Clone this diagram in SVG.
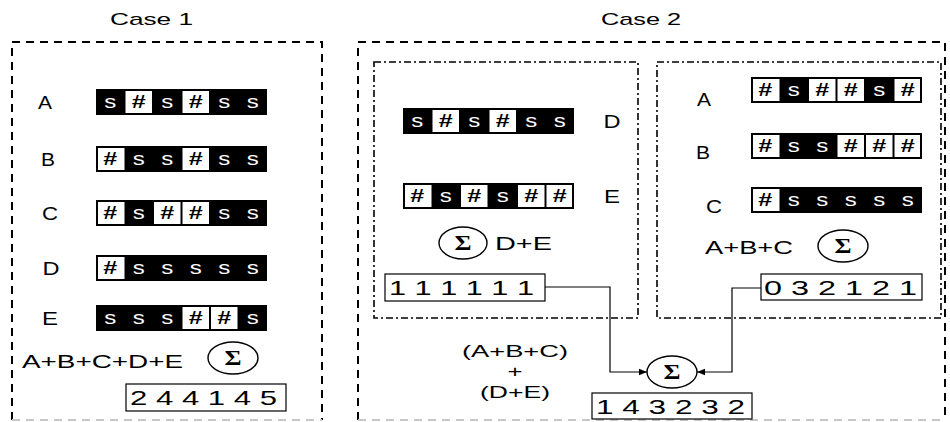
<svg xmlns="http://www.w3.org/2000/svg" width="950" height="422" viewBox="0 0 950 422">
<style>
text{font-family:"Liberation Sans",Arial,sans-serif;fill:#000}
.title{font-size:17px}
.lbl{font-size:18px;text-anchor:middle}
.bar{fill:#000}
.wc{fill:#fff}
.s{font-size:18px;fill:#fff;text-anchor:middle}
.h{font-size:18px;font-weight:bold;text-anchor:middle}
.outer{fill:none;stroke:#000;stroke-width:2;stroke-dasharray:8 6}
.outerb{fill:none;stroke:#c8c8c8;stroke-width:2;stroke-dasharray:8 6}
.inner{fill:none;stroke:#000;stroke-width:1.6;stroke-dasharray:7 3 2 3}
.sum{fill:#fff;stroke:#000;stroke-width:1.2}
.dig{font-size:21px}
.ex{font-size:18px}
.ex2{font-size:17px;text-anchor:middle}
.sig{fill:#fff;stroke:#000;stroke-width:1.4}
.sigt{font-family:"Liberation Serif","Times New Roman",serif;font-size:20px;font-weight:bold;text-anchor:middle}
.conn{fill:none;stroke:#000;stroke-width:1.2}
</style>
<defs>
<marker id="arr" viewBox="0 0 10 10" refX="10" refY="5" markerWidth="8" markerHeight="8" orient="auto" markerUnits="userSpaceOnUse">
<path d="M0,1 L10,5 L0,9 z" fill="#000"/>
</marker>
</defs>

<text class="title" x="110" y="25" textLength="83" lengthAdjust="spacingAndGlyphs">Case 1</text>
<text class="title" x="601" y="25" textLength="80" lengthAdjust="spacingAndGlyphs">Case 2</text>

<!-- frames -->
<g id="case1-frame">
<path class="outer" d="M12,420 V42 H322 V420"/>
<path class="outerb" d="M12,420 H322"/>
</g>
<g id="case2-frame">
<path class="outer" d="M358,420 V42 H945 V420"/>
<path class="outerb" d="M358,420 H945"/>
</g>
<g id="de-frame"><rect class="inner" x="374" y="62" width="264" height="256"/></g>
<g id="abc-frame"><rect class="inner" x="657" y="62" width="284" height="256"/></g>

<!-- Case 1 rows -->
<g id="c1-A">
<text class="lbl" x="45" y="109" textLength="14" lengthAdjust="spacingAndGlyphs">A</text>
<rect class="bar" x="96" y="89" width="171" height="26"/>
<rect class="wc" x="125.5" y="91" width="26.5" height="22"/><rect class="wc" x="182.5" y="91" width="26.5" height="22"/>
<text class="s" x="110.25" y="108" textLength="12" lengthAdjust="spacingAndGlyphs">s</text><text class="h" x="138.75" y="108" textLength="14" lengthAdjust="spacingAndGlyphs">#</text><text class="s" x="167.25" y="108" textLength="12" lengthAdjust="spacingAndGlyphs">s</text><text class="h" x="195.75" y="108" textLength="14" lengthAdjust="spacingAndGlyphs">#</text><text class="s" x="224.25" y="108" textLength="12" lengthAdjust="spacingAndGlyphs">s</text><text class="s" x="252.75" y="108" textLength="12" lengthAdjust="spacingAndGlyphs">s</text>
</g>
<g id="c1-B">
<text class="lbl" x="48" y="166" textLength="14" lengthAdjust="spacingAndGlyphs">B</text>
<rect class="bar" x="96" y="146" width="171" height="26"/>
<rect class="wc" x="98" y="148" width="26.5" height="22"/><rect class="wc" x="182.5" y="148" width="26.5" height="22"/>
<text class="h" x="110.25" y="165" textLength="14" lengthAdjust="spacingAndGlyphs">#</text><text class="s" x="138.75" y="165" textLength="12" lengthAdjust="spacingAndGlyphs">s</text><text class="s" x="167.25" y="165" textLength="12" lengthAdjust="spacingAndGlyphs">s</text><text class="h" x="195.75" y="165" textLength="14" lengthAdjust="spacingAndGlyphs">#</text><text class="s" x="224.25" y="165" textLength="12" lengthAdjust="spacingAndGlyphs">s</text><text class="s" x="252.75" y="165" textLength="12" lengthAdjust="spacingAndGlyphs">s</text>
</g>
<g id="c1-C">
<text class="lbl" x="50" y="220" textLength="16" lengthAdjust="spacingAndGlyphs">C</text>
<rect class="bar" x="96" y="200" width="171" height="26"/>
<rect class="wc" x="98" y="202" width="26.5" height="22"/><rect class="wc" x="154" y="202" width="26.5" height="22"/><rect class="wc" x="182.5" y="202" width="26.5" height="22"/>
<text class="h" x="110.25" y="219" textLength="14" lengthAdjust="spacingAndGlyphs">#</text><text class="s" x="138.75" y="219" textLength="12" lengthAdjust="spacingAndGlyphs">s</text><text class="h" x="167.25" y="219" textLength="14" lengthAdjust="spacingAndGlyphs">#</text><text class="h" x="195.75" y="219" textLength="14" lengthAdjust="spacingAndGlyphs">#</text><text class="s" x="224.25" y="219" textLength="12" lengthAdjust="spacingAndGlyphs">s</text><text class="s" x="252.75" y="219" textLength="12" lengthAdjust="spacingAndGlyphs">s</text>
</g>
<g id="c1-D">
<text class="lbl" x="51" y="275" textLength="17" lengthAdjust="spacingAndGlyphs">D</text>
<rect class="bar" x="96" y="255" width="171" height="26"/>
<rect class="wc" x="98" y="257" width="26.5" height="22"/>
<text class="h" x="110.25" y="274" textLength="14" lengthAdjust="spacingAndGlyphs">#</text><text class="s" x="138.75" y="274" textLength="12" lengthAdjust="spacingAndGlyphs">s</text><text class="s" x="167.25" y="274" textLength="12" lengthAdjust="spacingAndGlyphs">s</text><text class="s" x="195.75" y="274" textLength="12" lengthAdjust="spacingAndGlyphs">s</text><text class="s" x="224.25" y="274" textLength="12" lengthAdjust="spacingAndGlyphs">s</text><text class="s" x="252.75" y="274" textLength="12" lengthAdjust="spacingAndGlyphs">s</text>
</g>
<g id="c1-E">
<text class="lbl" x="50" y="325" textLength="16" lengthAdjust="spacingAndGlyphs">E</text>
<rect class="bar" x="96" y="305" width="171" height="26"/>
<rect class="wc" x="182.5" y="307" width="26.5" height="22"/><rect class="wc" x="211" y="307" width="26.5" height="22"/>
<text class="s" x="110.25" y="324" textLength="12" lengthAdjust="spacingAndGlyphs">s</text><text class="s" x="138.75" y="324" textLength="12" lengthAdjust="spacingAndGlyphs">s</text><text class="s" x="167.25" y="324" textLength="12" lengthAdjust="spacingAndGlyphs">s</text><text class="h" x="195.75" y="324" textLength="14" lengthAdjust="spacingAndGlyphs">#</text><text class="h" x="224.25" y="324" textLength="14" lengthAdjust="spacingAndGlyphs">#</text><text class="s" x="252.75" y="324" textLength="12" lengthAdjust="spacingAndGlyphs">s</text>
</g>
<g id="c1-sum">
<text class="ex" x="22" y="368" textLength="161" lengthAdjust="spacingAndGlyphs">A+B+C+D+E</text>
<ellipse class="sig" cx="233" cy="358" rx="25" ry="16"/>
<text class="sigt" x="233" y="365" textLength="17" lengthAdjust="spacingAndGlyphs">Σ</text>
</g>
<g id="c1-result">
<rect class="sum" x="126" y="384" width="160" height="27"/>
<text class="dig" x="130" y="405" textLength="147" lengthAdjust="spacingAndGlyphs">2 4 4 1 4 5</text>
</g>

<!-- Case 2 left inner -->
<g id="c2-D">
<rect class="bar" x="403" y="108" width="171" height="26"/>
<rect class="wc" x="432.5" y="110" width="26.5" height="22"/><rect class="wc" x="489.5" y="110" width="26.5" height="22"/>
<text class="s" x="417.25" y="127" textLength="12" lengthAdjust="spacingAndGlyphs">s</text><text class="h" x="445.75" y="127" textLength="14" lengthAdjust="spacingAndGlyphs">#</text><text class="s" x="474.25" y="127" textLength="12" lengthAdjust="spacingAndGlyphs">s</text><text class="h" x="502.75" y="127" textLength="14" lengthAdjust="spacingAndGlyphs">#</text><text class="s" x="531.25" y="127" textLength="12" lengthAdjust="spacingAndGlyphs">s</text><text class="s" x="559.75" y="127" textLength="12" lengthAdjust="spacingAndGlyphs">s</text>
<text class="lbl" x="612" y="128" textLength="17" lengthAdjust="spacingAndGlyphs">D</text>
</g>
<g id="c2-E">
<rect class="bar" x="403" y="183" width="171" height="26"/>
<rect class="wc" x="405" y="185" width="26.5" height="22"/><rect class="wc" x="461" y="185" width="26.5" height="22"/><rect class="wc" x="518" y="185" width="26.5" height="22"/><rect class="wc" x="546.5" y="185" width="25.5" height="22"/>
<text class="h" x="417.25" y="202" textLength="14" lengthAdjust="spacingAndGlyphs">#</text><text class="s" x="445.75" y="202" textLength="12" lengthAdjust="spacingAndGlyphs">s</text><text class="h" x="474.25" y="202" textLength="14" lengthAdjust="spacingAndGlyphs">#</text><text class="s" x="502.75" y="202" textLength="12" lengthAdjust="spacingAndGlyphs">s</text><text class="h" x="531.25" y="202" textLength="14" lengthAdjust="spacingAndGlyphs">#</text><text class="h" x="559.75" y="202" textLength="14" lengthAdjust="spacingAndGlyphs">#</text>
<text class="lbl" x="612" y="203" textLength="16" lengthAdjust="spacingAndGlyphs">E</text>
</g>
<g id="c2-de-sum">
<ellipse class="sig" cx="463" cy="243" rx="24" ry="16"/>
<text class="sigt" x="463" y="250" textLength="17" lengthAdjust="spacingAndGlyphs">Σ</text>
<text class="ex" x="495" y="250" textLength="57" lengthAdjust="spacingAndGlyphs">D+E</text>
</g>
<g id="c2-de-result">
<rect class="sum" x="385" y="274" width="160" height="27"/>
<text class="dig" x="389" y="295" textLength="145" lengthAdjust="spacingAndGlyphs">1 1 1 1 1 1</text>
</g>

<!-- Case 2 right inner -->
<g id="c2-A">
<text class="lbl" x="704" y="106" textLength="14" lengthAdjust="spacingAndGlyphs">A</text>
<rect class="bar" x="751" y="77" width="171" height="26"/>
<rect class="wc" x="753" y="79" width="26.5" height="22"/><rect class="wc" x="809" y="79" width="26.5" height="22"/><rect class="wc" x="837.5" y="79" width="26.5" height="22"/><rect class="wc" x="894.5" y="79" width="25.5" height="22"/>
<text class="h" x="765.25" y="96" textLength="14" lengthAdjust="spacingAndGlyphs">#</text><text class="s" x="793.75" y="96" textLength="12" lengthAdjust="spacingAndGlyphs">s</text><text class="h" x="822.25" y="96" textLength="14" lengthAdjust="spacingAndGlyphs">#</text><text class="h" x="850.75" y="96" textLength="14" lengthAdjust="spacingAndGlyphs">#</text><text class="s" x="879.25" y="96" textLength="12" lengthAdjust="spacingAndGlyphs">s</text><text class="h" x="907.75" y="96" textLength="14" lengthAdjust="spacingAndGlyphs">#</text>
</g>
<g id="c2-B">
<text class="lbl" x="703" y="159" textLength="14" lengthAdjust="spacingAndGlyphs">B</text>
<rect class="bar" x="751" y="133" width="171" height="26"/>
<rect class="wc" x="753" y="135" width="26.5" height="22"/><rect class="wc" x="837.5" y="135" width="26.5" height="22"/><rect class="wc" x="866" y="135" width="26.5" height="22"/><rect class="wc" x="894.5" y="135" width="25.5" height="22"/>
<text class="h" x="765.25" y="152" textLength="14" lengthAdjust="spacingAndGlyphs">#</text><text class="s" x="793.75" y="152" textLength="12" lengthAdjust="spacingAndGlyphs">s</text><text class="s" x="822.25" y="152" textLength="12" lengthAdjust="spacingAndGlyphs">s</text><text class="h" x="850.75" y="152" textLength="14" lengthAdjust="spacingAndGlyphs">#</text><text class="h" x="879.25" y="152" textLength="14" lengthAdjust="spacingAndGlyphs">#</text><text class="h" x="907.75" y="152" textLength="14" lengthAdjust="spacingAndGlyphs">#</text>
</g>
<g id="c2-C">
<text class="lbl" x="714" y="213" textLength="16" lengthAdjust="spacingAndGlyphs">C</text>
<rect class="bar" x="751" y="187" width="171" height="26"/>
<rect class="wc" x="753" y="189" width="26.5" height="22"/>
<text class="h" x="765.25" y="206" textLength="14" lengthAdjust="spacingAndGlyphs">#</text><text class="s" x="793.75" y="206" textLength="12" lengthAdjust="spacingAndGlyphs">s</text><text class="s" x="822.25" y="206" textLength="12" lengthAdjust="spacingAndGlyphs">s</text><text class="s" x="850.75" y="206" textLength="12" lengthAdjust="spacingAndGlyphs">s</text><text class="s" x="879.25" y="206" textLength="12" lengthAdjust="spacingAndGlyphs">s</text><text class="s" x="907.75" y="206" textLength="12" lengthAdjust="spacingAndGlyphs">s</text>
</g>
<g id="c2-abc-sum">
<text class="ex" x="705" y="254" textLength="88" lengthAdjust="spacingAndGlyphs">A+B+C</text>
<ellipse class="sig" cx="843" cy="246" rx="25" ry="16"/>
<text class="sigt" x="843" y="253" textLength="17" lengthAdjust="spacingAndGlyphs">Σ</text>
</g>
<g id="c2-abc-result">
<rect class="sum" x="761" y="274" width="161" height="26"/>
<text class="dig" x="764" y="295" textLength="153" lengthAdjust="spacingAndGlyphs">0 3 2 1 2 1</text>
</g>

<!-- connectors -->
<g id="connectors">
<path class="conn" d="M545,287 H610 V372 H647" marker-end="url(#arr)"/>
<path class="conn" d="M761,288 H732 V372 H697" marker-end="url(#arr)"/>
</g>

<g id="c2-total-sum">
<ellipse class="sig" cx="672" cy="372" rx="25" ry="16"/>
<text class="sigt" x="672" y="379" textLength="17" lengthAdjust="spacingAndGlyphs">Σ</text>
<text class="ex2" x="515" y="357" textLength="106" lengthAdjust="spacingAndGlyphs">(A+B+C)</text>
<text class="ex2" x="515" y="377" textLength="15" lengthAdjust="spacingAndGlyphs">+</text>
<text class="ex2" x="515" y="398" textLength="70" lengthAdjust="spacingAndGlyphs">(D+E)</text>
</g>
<g id="c2-total-result">
<rect class="sum" x="592" y="393" width="160" height="26"/>
<text class="dig" x="596" y="414" textLength="149" lengthAdjust="spacingAndGlyphs">1 4 3 2 3 2</text>
</g>
</svg>
